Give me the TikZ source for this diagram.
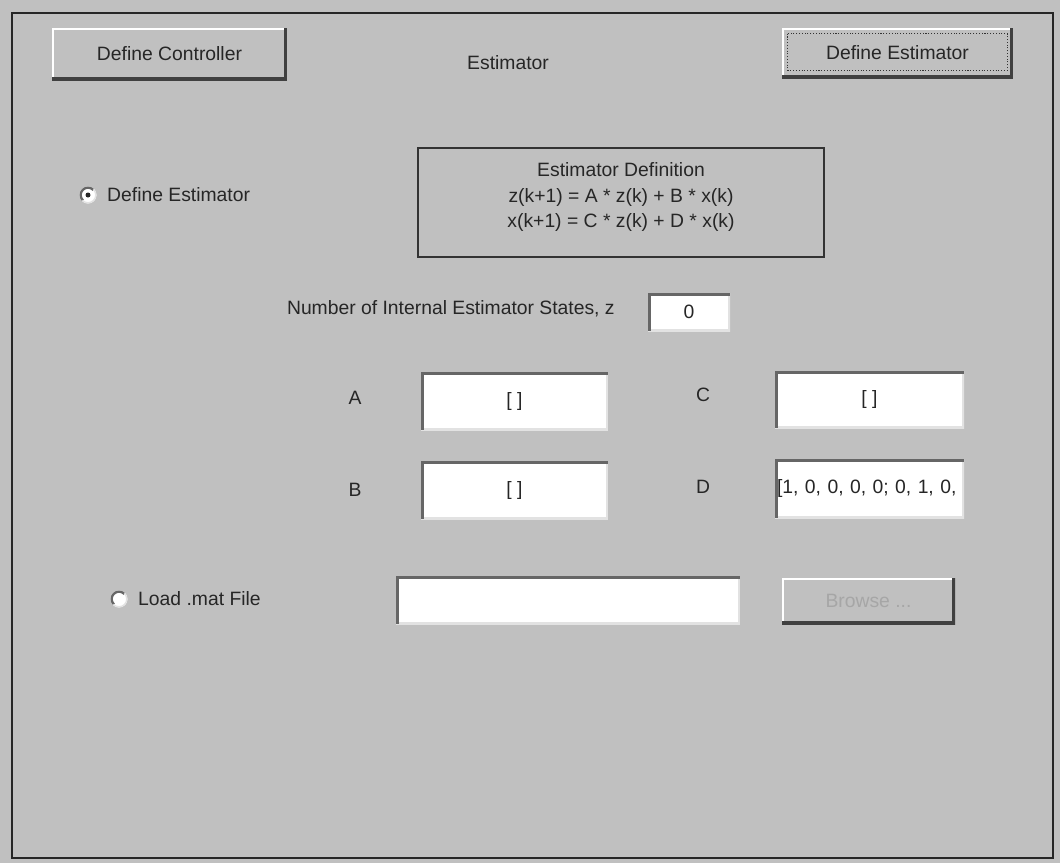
\documentclass[tikz,border=0pt]{standalone}
\usepackage{fontspec}
\setmainfont{Liberation Sans}
\usepackage{xcolor}
\usetikzlibrary{positioning,calc}

\definecolor{panel}{RGB}{192,192,192}
\definecolor{lite}{RGB}{226,226,226}
\newcommand{\guifont}{\fontsize{11}{13}\selectfont}

\begin{document}
\begin{tikzpicture}[
        x=0.02cm, y=-0.02cm,
        every node/.style={font=\guifont, text=black!85},
        button/.style={rectangle, fill=panel, inner sep=0pt, path picture={
            \draw[white, line width=2.4pt] (path picture bounding box.south west) |- (path picture bounding box.north east);
            \draw[black!75, line width=3.4pt] (path picture bounding box.south west) -| (path picture bounding box.north east);}},
        field/.style={rectangle, fill=white, inner sep=0pt, path picture={
            \draw[lite, line width=2.4pt] (path picture bounding box.south west) -| (path picture bounding box.north east);
            \draw[black!60, line width=3.4pt] (path picture bounding box.south west) |- (path picture bounding box.north east);}},
        defbox/.style={rectangle, draw=black!80, line width=1.1pt, inner sep=0pt},
        lbl/.style={inner sep=0pt},
        radio/.style={circle, fill=white, inner sep=0pt, minimum size=0.34cm, path picture={
            \draw[black!60, line width=2.6pt] (path picture bounding box.center) ++(45:0.17cm) arc[start angle=45, end angle=225, radius=0.17cm];
            \draw[lite, line width=1.6pt] (path picture bounding box.center) ++(225:0.17cm) arc[start angle=225, end angle=405, radius=0.17cm];}},
        focus/.style={densely dotted, black!80, line width=0.6pt}
    ]
        % Background and frame
        \useasboundingbox (0,0) rectangle (1060,863);
        \fill[panel] (0,0) rectangle (1060,863);
        \node[draw=black!85, line width=1.1pt, inner sep=0pt, minimum width=20.82cm, minimum height=16.9cm] (frame) at (532.5,435.5) {};

        % Top row
        \node[button, minimum width=4.7cm, minimum height=1.04cm] (defctrl) at (169.5,54) {Define Controller};
        \node[lbl] (title) at (508,63) {Estimator};
        \node[button, minimum width=4.62cm, minimum height=1cm] (defest) at (897.5,53) {Define Estimator};
        \draw[focus] ($(defest.north west)+(6,6)$) rectangle ($(defest.south east)+(-6,-8)$);

        % Define estimator option
        \node[radio] (rdef) at (88,195) {};
        \fill[black!85] (rdef.center) circle[radius=0.05cm];
        \node[lbl, right=0.2cm of rdef] (rdeflbl) {Define Estimator};

        % Estimator definition
        \node[defbox, minimum width=8.12cm, minimum height=2.18cm] (estdef) at (621,202.5) {};
        \node[lbl, align=center, font=\fontsize{11}{14.7}\selectfont] (estdeftxt) at (621,197) {Estimator Definition\\
            z(k+1) = A * z(k) + B * x(k)\\
            x(k+1) = C * z(k) + D * x(k)};

        % Number of states
        \node[lbl, anchor=east] (nlbl) at (615,309) {Number of Internal Estimator States, z};
        \node[field, minimum width=1.64cm, minimum height=0.76cm] (nstates) at (689,312) {0};

        % Matrices
        \node[lbl] (la) at (355,398) {A};
        \node[field, minimum width=3.74cm, minimum height=1.16cm] (fa) at (514.5,401) {[ ]};
        \node[lbl] (lb) at (355,490) {B};
        \node[field, minimum width=3.74cm, minimum height=1.16cm] (fb) at (514.5,490) {[ ]};
        \node[lbl] (lc) at (703,395) {C};
        \node[field, minimum width=3.78cm, minimum height=1.14cm] (fc) at (869.5,399.5) {[ ]};
        \node[lbl] (ld) at (703,487) {D};
        \node[field, minimum width=3.78cm, minimum height=1.18cm, text width=3.7cm, align=left] (fd) at (869.5,488.5) {[1, 0, 0, 0, 0; 0, 1, 0,};

        % Load from file
        \node[radio] (rload) at (119,599) {};
        \node[lbl, right=0.2cm of rload] (rloadlbl) {Load .mat File};
        \node[field, minimum width=6.88cm, minimum height=0.96cm] (ffile) at (568,600) {};
        \node[button, text=black!35, minimum width=3.46cm, minimum height=0.92cm] (browse) at (868.5,601) {Browse ...};
    \end{tikzpicture}
\end{document}
